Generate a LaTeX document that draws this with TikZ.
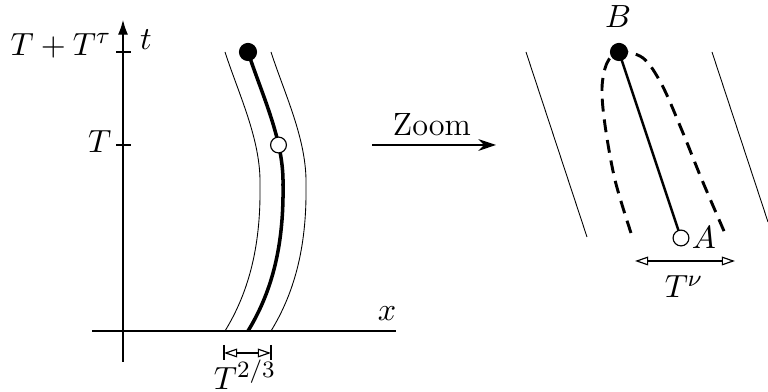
\documentclass[tikz,border=0pt]{standalone}
\usetikzlibrary{arrows.meta}
\begin{document}
\begin{tikzpicture}[x=0.012cm,y=-0.012cm,
  font=\fontsize{11}{13}\selectfont,
  axisline/.style={line width=0.4pt},
  bandline/.style={line width=0.3pt},
  mainpath/.style={line width=1.2pt},
  segline/.style={line width=0.85pt},
  loopline/.style={line width=1pt,dash pattern=on 4.4pt off 2.7pt},
  fulldot/.style={circle,fill=black,draw=black,inner sep=0pt,minimum size=5.8pt},
  opendot/.style={circle,fill=white,draw=black,line width=0.4pt,inner sep=0pt,minimum size=5.4pt},
  dimarrow/.style={line width=0.4pt,{Triangle[open,length=4.5pt,width=3pt]}-{Triangle[open,length=4.5pt,width=3pt]}},
  lbl/.style={inner sep=0pt}]
\useasboundingbox (0,0) rectangle (768,392);
% axes
\coordinate (ybot) at (123,362);
\coordinate (ytop) at (123,20);
\coordinate (xl) at (92,331);
\coordinate (xr) at (396,331);
\draw[axisline,-{Latex[length=5pt,width=3.4pt]}] (ybot) -- (ytop);
\draw[axisline] (xl) -- (xr);
\coordinate (t1a) at (116,52); \coordinate (t1b) at (131,52);
\coordinate (t2a) at (116,145); \coordinate (t2b) at (131,145);
\draw[axisline] (t1a) -- (t1b);
\draw[axisline] (t2a) -- (t2b);
\node[lbl,anchor=east] (lTT) at (112,46) {$T+T^\tau$};
\node[lbl,anchor=east] (lT) at (112,142) {$T$};
\node[lbl] (lt) at (146,40) {$t$};
\node[lbl] (lx) at (387,314) {$x$};
% band
\draw[bandline] (225,52) .. controls (239,95) and (261,140) .. (260,185) .. controls (261,250) and (247,295) .. (225,331);
\draw[bandline] (271,52) .. controls (285,95) and (307,140) .. (306,185) .. controls (307,250) and (293,295) .. (271,331);
\draw[mainpath] (248,52) .. controls (262,95) and (284,140) .. (283,185) .. controls (284,250) and (270,295) .. (248,331);
\node[opendot] (A1) at (278.5,145) {};
\node[fulldot] (B1) at (248,52) {};
% width marker
\coordinate (wl) at (224,353); \coordinate (wr) at (271,353);
\coordinate (wla) at (224,345); \coordinate (wlb) at (224,360);
\coordinate (wra) at (271,345); \coordinate (wrb) at (271,360);
\draw[axisline] (wla) -- (wlb);
\draw[axisline] (wra) -- (wrb);
\draw[dimarrow] (wl) -- (wr);
\node[lbl] (lw) at (245,375) {$T^{2/3}$};
% zoom arrow
\coordinate (za) at (372,145); \coordinate (zb) at (496,145);
\draw[axisline,-{Stealth[length=6pt,width=4pt]}] (za) -- (zb);
\node[lbl] (lz) at (432,125) {Zoom};
% right picture
\coordinate (r1a) at (526,52); \coordinate (r1b) at (587,237);
\coordinate (r2a) at (712,52); \coordinate (r2b) at (768,222);
\draw[bandline] (r1a) -- (r1b);
\draw[bandline] (r2a) -- (r2b);
\draw[loopline] plot[smooth,tension=0.55] coordinates {(631,233) (615,180) (605,125) (602,88) (607,63) (619,52) (643,58) (662,85) (683,133) (702,180) (727,238)};
\draw[segline] (619,52) -- (681,238);
\node[fulldot] (B) at (619,52) {};
\node[opendot] (A) at (681,238) {};
\node[lbl] (lB) at (618,17) {$B$};
\node[lbl] (lA) at (704,238) {$A$};
\coordinate (nl) at (635,261); \coordinate (nr) at (735,261);
\draw[dimarrow] (nl) -- (nr);
\node[lbl] (ln) at (684,287) {$T^\nu$};
\end{tikzpicture}
\end{document}
